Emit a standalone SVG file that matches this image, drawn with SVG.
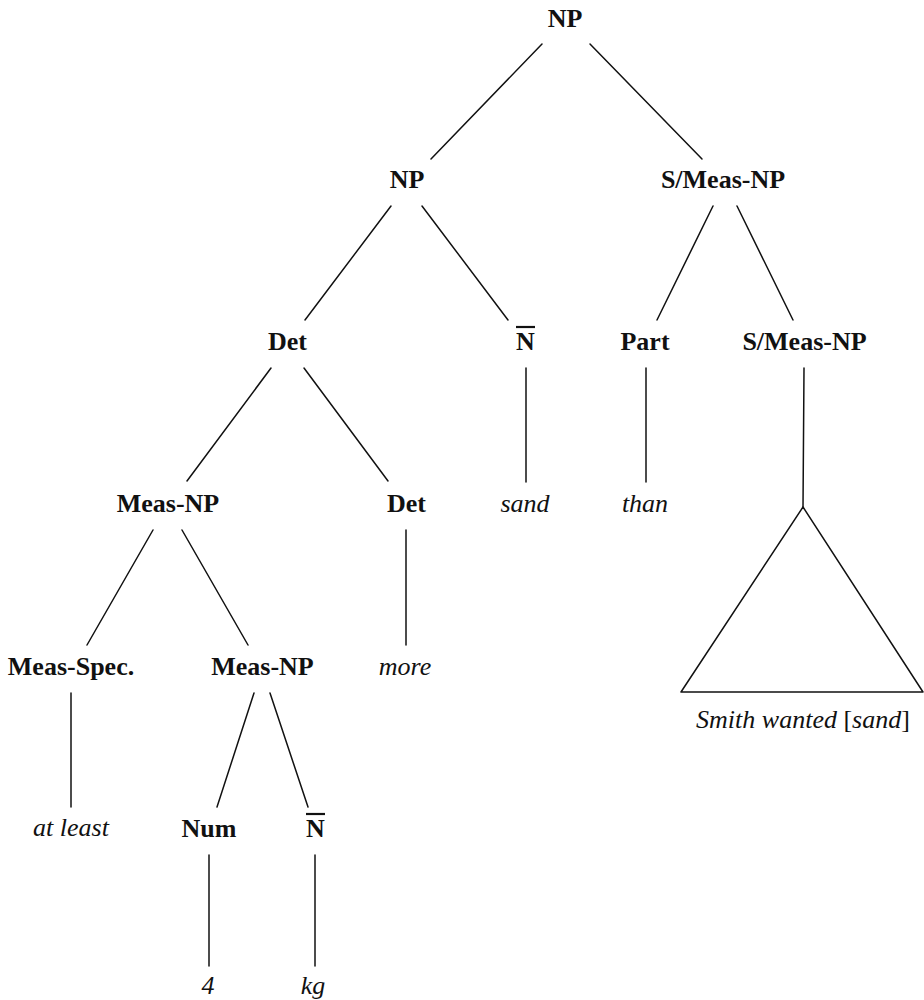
<svg xmlns="http://www.w3.org/2000/svg" width="924" height="1000" viewBox="0 0 924 1000">
<style>
.lab{font-family:"Liberation Serif","Times New Roman",serif;font-weight:bold;font-size:26px;fill:#111;text-anchor:middle}
.word{font-family:"Liberation Serif","Times New Roman",serif;font-style:italic;font-size:26px;fill:#111;text-anchor:middle}
.up{font-style:normal}
.e{stroke:#111;stroke-width:1.5;fill:none;stroke-linecap:round}
.bar{stroke:#111;stroke-width:2.2}
</style>
<rect width="924" height="1000" fill="#fff"/>
<g id="connectors">
<line class="e" x1="542" y1="44" x2="431" y2="159"/>
<line class="e" x1="590" y1="44" x2="702" y2="159"/>
<line class="e" x1="391" y1="206" x2="305" y2="320"/>
<line class="e" x1="422" y1="206" x2="508" y2="320"/>
<line class="e" x1="713" y1="206" x2="657" y2="320"/>
<line class="e" x1="737" y1="206" x2="793" y2="320"/>
<line class="e" x1="526" y1="368" x2="526" y2="482"/>
<line class="e" x1="646" y1="368" x2="646" y2="482"/>
<line class="e" x1="804" y1="368" x2="803" y2="507"/>
<line class="e" x1="271" y1="368" x2="187" y2="481"/>
<line class="e" x1="304" y1="368" x2="388" y2="481"/>
<line class="e" x1="406" y1="530" x2="406" y2="645"/>
<line class="e" x1="153" y1="530" x2="87" y2="645"/>
<line class="e" x1="182" y1="530" x2="248" y2="645"/>
<line class="e" x1="71" y1="693" x2="71" y2="807"/>
<line class="e" x1="254" y1="693" x2="217" y2="807"/>
<line class="e" x1="270" y1="693" x2="308" y2="807"/>
<line class="e" x1="209" y1="855" x2="209" y2="966"/>
<line class="e" x1="315" y1="855" x2="315" y2="966"/>
</g>
<g id="n-np-root"><text class="lab" x="565" y="27">NP</text></g>
<g id="n-np"><text class="lab" x="407" y="188">NP</text></g>
<g id="n-smeas1"><text class="lab" x="723" y="188">S/Meas-NP</text></g>
<g id="n-det1"><text class="lab" x="287.5" y="350">Det</text></g>
<g id="n-nbar1"><text class="lab" x="525.5" y="350">N</text><line class="bar" x1="516" y1="327" x2="535" y2="327"/></g>
<g id="n-part"><text class="lab" x="645" y="350">Part</text></g>
<g id="n-smeas2"><text class="lab" x="804.5" y="350">S/Meas-NP</text></g>
<g id="n-measnp1"><text class="lab" x="168" y="512">Meas-NP</text></g>
<g id="n-det2"><text class="lab" x="406.5" y="512">Det</text></g>
<g id="w-sand"><text class="word" x="525" y="512">sand</text></g>
<g id="w-than"><text class="word" x="645" y="512">than</text></g>
<g id="n-triangle"><polygon class="e" points="803,507 681,692 923,692" stroke-linejoin="round"/></g>
<g id="n-measspec"><text class="lab" x="71" y="675">Meas-Spec.</text></g>
<g id="n-measnp2"><text class="lab" x="262.5" y="675">Meas-NP</text></g>
<g id="w-more"><text class="word" x="405" y="675">more</text></g>
<g id="w-smith"><text class="word" x="803" y="728">Smith wanted <tspan class="up">[</tspan>sand<tspan class="up">]</tspan></text></g>
<g id="w-atleast"><text class="word" x="71" y="836">at least</text></g>
<g id="n-num"><text class="lab" x="209" y="837">Num</text></g>
<g id="n-nbar2"><text class="lab" x="315.5" y="837">N</text><line class="bar" x1="306" y1="814" x2="325" y2="814"/></g>
<g id="w-4"><text class="word" x="208" y="994">4</text></g>
<g id="w-kg"><text class="word" x="313" y="994">kg</text></g>
</svg>
